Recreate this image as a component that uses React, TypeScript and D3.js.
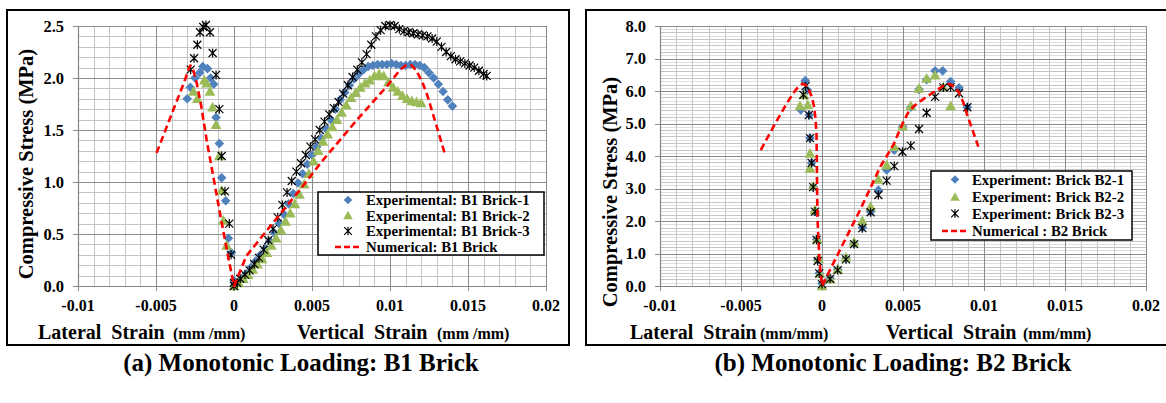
import React from 'react';
import * as d3 from 'd3';

type Pt = [number, number];

// ---------- Panel (a): B1 brick ----------
const B1_BRICK1: Pt[] = [
  [-0.0030, 1.80], [-0.0028, 1.91], [-0.0025, 2.00], [-0.0022, 2.05], [-0.0020, 2.11], [-0.0017, 2.09],
  [-0.0015, 2.00], [-0.0013, 1.94], [-0.00115, 1.62], [-0.00094, 1.37], [-0.00079, 1.04], [-0.00053, 0.82],
  [-0.00036, 0.46], [-0.00017, 0.32], [0, 0.05],
  [0, 0], [0.0002, 0.03], [0.0005, 0.07], [0.0008, 0.12], [0.0011, 0.18], [0.0014, 0.24], [0.0017, 0.30],
  [0.0020, 0.36], [0.0023, 0.43], [0.0026, 0.51], [0.0029, 0.60], [0.0032, 0.69], [0.0035, 0.79],
  [0.0038, 0.89], [0.0041, 0.99], [0.0044, 1.08], [0.0047, 1.17], [0.0050, 1.26], [0.0053, 1.34],
  [0.0056, 1.42], [0.0059, 1.51], [0.0062, 1.60], [0.0065, 1.70], [0.0068, 1.79], [0.0071, 1.86],
  [0.0074, 1.93], [0.0077, 1.99], [0.0080, 2.04], [0.0083, 2.08], [0.0086, 2.11], [0.0089, 2.12],
  [0.0092, 2.13], [0.0095, 2.13], [0.0098, 2.13], [0.0101, 2.14], [0.0104, 2.13], [0.0107, 2.12],
  [0.0110, 2.12], [0.0113, 2.13], [0.0116, 2.13], [0.0119, 2.12], [0.0122, 2.10], [0.0125, 2.05],
  [0.0128, 2.00], [0.0131, 1.94], [0.0134, 1.87], [0.0137, 1.79], [0.0140, 1.73],
];

const B1_BRICK2: Pt[] = [
  [-0.0026, 1.87], [-0.00235, 1.80], [-0.0019, 1.98], [-0.00175, 1.95], [-0.00154, 1.87], [-0.00137, 1.72],
  [-0.00115, 1.55], [-0.00094, 1.25], [-0.00079, 0.92], [-0.00068, 0.63], [-0.00047, 0.39], [0, 0],
  [0.0003, 0.03], [0.0006, 0.07], [0.0009, 0.11], [0.0012, 0.16], [0.0015, 0.21], [0.0018, 0.26],
  [0.0021, 0.32], [0.0024, 0.39], [0.0027, 0.46], [0.0030, 0.54], [0.0033, 0.62], [0.0036, 0.70],
  [0.0039, 0.79], [0.0042, 0.88], [0.0045, 0.98], [0.0048, 1.08], [0.0051, 1.20], [0.0054, 1.30],
  [0.0057, 1.39], [0.0060, 1.46], [0.0063, 1.53], [0.0066, 1.60], [0.0069, 1.67], [0.0072, 1.74],
  [0.0075, 1.81], [0.0078, 1.86], [0.0081, 1.91], [0.0084, 1.95], [0.0087, 1.98], [0.0090, 2.02],
  [0.0093, 2.04], [0.0096, 2.02], [0.0099, 1.96], [0.0102, 1.91], [0.0105, 1.87], [0.0108, 1.83],
  [0.0111, 1.80], [0.0114, 1.78], [0.0117, 1.77], [0.0120, 1.76],
];

const B1_BRICK3: Pt[] = [
  [-0.00278, 2.08], [-0.00256, 2.19], [-0.00235, 2.32], [-0.00218, 2.44], [-0.00197, 2.49], [-0.0018, 2.51],
  [-0.00154, 2.44], [-0.00137, 2.24], [-0.00115, 2.03], [-0.00094, 1.70], [-0.00079, 1.25], [-0.00058, 0.91],
  [-0.0003, 0.60], [-0.00019, 0.30], [0, 0.03],
  [0, 0], [0.0002, 0.03], [0.0004, 0.07], [0.0007, 0.11], [0.0010, 0.15], [0.0013, 0.21], [0.0016, 0.27],
  [0.0019, 0.35], [0.0022, 0.44], [0.0025, 0.55], [0.0028, 0.66], [0.0031, 0.78], [0.0034, 0.90],
  [0.0037, 1.01], [0.0040, 1.10], [0.0043, 1.18], [0.0046, 1.26], [0.0049, 1.34], [0.0052, 1.41],
  [0.0055, 1.50], [0.0058, 1.58], [0.0061, 1.65], [0.0064, 1.71], [0.0067, 1.77], [0.0070, 1.85],
  [0.0073, 1.93], [0.0076, 2.01], [0.0079, 2.08], [0.0082, 2.15], [0.0085, 2.23], [0.0088, 2.32],
  [0.0091, 2.40], [0.0094, 2.46], [0.0097, 2.50], [0.0100, 2.51], [0.0103, 2.50], [0.0106, 2.47],
  [0.0109, 2.45], [0.0112, 2.44], [0.0115, 2.43], [0.0118, 2.42], [0.0121, 2.41], [0.0124, 2.40],
  [0.0127, 2.38], [0.0130, 2.35], [0.0133, 2.30], [0.0136, 2.25], [0.0139, 2.21], [0.0142, 2.18],
  [0.0145, 2.16], [0.0148, 2.14], [0.0151, 2.12], [0.0154, 2.10], [0.0157, 2.07], [0.0160, 2.04],
  [0.0162, 2.02],
];

const B1_NUMERICAL: Pt[] = [
  [-0.00496, 1.28], [-0.0039, 1.69], [-0.0034, 1.88], [-0.0031, 2.00], [-0.0029, 2.09], [-0.0028, 2.12],
  [-0.0027, 2.11], [-0.0026, 2.07], [-0.0024, 1.96], [-0.0021, 1.73], [-0.00175, 1.40], [-0.0009, 0.70],
  [-0.0004, 0.30], [0, 0], [0.0008, 0.29], [0.0023, 0.57], [0.0042, 0.92], [0.0057, 1.21], [0.0079, 1.60],
  [0.0098, 1.92], [0.0106, 2.07], [0.0110, 2.12], [0.0112, 2.13], [0.0114, 2.12], [0.0117, 2.07],
  [0.0121, 1.95], [0.0124, 1.83], [0.0130, 1.53], [0.0135, 1.28],
];

// ---------- Panel (b): B2 brick ----------
const B2_BRICK1: Pt[] = [
  [-0.00131, 5.42], [-0.00103, 6.32], [-0.00091, 6.03], [-0.00078, 5.26], [-0.00074, 4.55], [-0.00064, 3.79],
  [-0.00054, 3.04], [-0.00043, 2.29], [-0.00033, 1.44], [-0.00027, 0.80], [-0.00017, 0.39], [0, 0.08],
  [0.0005, 0.24], [0.00097, 0.51], [0.00148, 0.85], [0.00198, 1.31], [0.00249, 1.80], [0.0030, 2.29],
  [0.00348, 2.95], [0.00399, 3.57], [0.00446, 4.18], [0.00498, 4.90], [0.00548, 5.50], [0.00599, 6.05],
  [0.00646, 6.35], [0.00698, 6.62], [0.00745, 6.62], [0.00794, 6.29], [0.00846, 6.10], [0.00897, 5.50],
];

const B2_BRICK2: Pt[] = [
  [-0.00136, 5.54], [-0.00111, 5.88], [-0.00088, 5.57], [-0.00074, 4.08], [-0.00074, 3.62], [-0.00054, 3.08],
  [-0.00043, 2.34], [-0.00029, 1.44], [-0.00021, 0.85], [-0.00012, 0.39], [0, 0],
  [0.0005, 0.22], [0.00097, 0.52], [0.00148, 0.88], [0.00198, 1.35], [0.00249, 2.00], [0.0030, 2.44],
  [0.00348, 3.28], [0.00399, 3.72], [0.00446, 4.29], [0.00498, 4.92], [0.00548, 5.54], [0.00599, 6.08],
  [0.00646, 6.39], [0.00698, 6.49], [0.00749, 6.13], [0.00794, 5.54],
];

const B2_BRICK3: Pt[] = [
  [-0.00115, 5.88], [-0.00101, 6.15], [-0.00082, 5.26], [-0.00074, 4.55], [-0.00064, 3.79], [-0.00054, 3.04],
  [-0.00043, 2.29], [-0.00033, 1.42], [-0.00027, 0.77], [-0.00017, 0.39], [0, 0.06],
  [0.0005, 0.22], [0.00097, 0.49], [0.00148, 0.82], [0.00198, 1.29], [0.00249, 1.78], [0.0030, 2.27],
  [0.00348, 2.80], [0.00399, 3.24], [0.00446, 3.69], [0.00496, 4.13], [0.00548, 4.32], [0.00599, 4.83],
  [0.00646, 5.33], [0.00698, 5.82], [0.00749, 6.11], [0.00794, 6.11], [0.00846, 5.93], [0.00897, 5.50],
];

const B2_NUMERICAL: Pt[] = [
  [-0.00378, 4.18], [-0.0030, 4.90], [-0.0022, 5.60], [-0.0017, 5.98], [-0.00146, 6.13], [-0.0012, 6.22],
  [-0.0010, 6.18], [-0.0008, 6.02], [-0.00064, 5.83], [-0.0005, 5.55], [-0.0004, 5.15], [-0.00034, 4.65],
  [-0.00032, 3.90], [-0.0003, 2.80], [-0.00027, 2.00], [-0.00016, 0.80], [0, 0], [0.0012, 1.20],
  [0.00235, 2.34], [0.0036, 3.67], [0.0044, 4.34], [0.0050, 5.02], [0.0053, 5.32], [0.00564, 5.52],
  [0.0060, 5.66], [0.00646, 5.82], [0.0070, 6.00], [0.00749, 6.16], [0.00786, 6.22], [0.0082, 6.12],
  [0.00842, 5.98], [0.0087, 5.68], [0.00893, 5.31], [0.00965, 4.29],
];

const X_TICKS = [-0.01, -0.005, 0, 0.005, 0.01, 0.015, 0.02];
const X_TICK_LABELS = ['-0.01', '-0.005', '0', '0.005', '0.01', '0.015', '0.02'];
const Y_TICKS_A = [0, 0.5, 1.0, 1.5, 2.0, 2.5];
const Y_TICKS_B = [0, 1, 2, 3, 4, 5, 6, 7, 8];

const LEGEND_A = ['Experimental: B1 Brick-1', 'Experimental: B1 Brick-2', 'Experimental: B1 Brick-3', 'Numerical: B1 Brick'];
const LEGEND_B = ['Experiment: Brick B2-1', 'Experiment: Brick B2-2', 'Experiment: Brick B2-3', 'Numerical : B2 Brick'];

const BLUE = '#4F81BD';
const GREEN = '#9BBB59';
const RED = '#FF0000';
const FONT = '"Liberation Serif", "Times New Roman", serif';

const Diamond = ({ x, y, r = 4.8 }: { x: number; y: number; r?: number }) => (
  <path d={`M${x},${y - r}L${x + r},${y}L${x},${y + r}L${x - r},${y}Z`} fill={BLUE} />
);
const Triangle = ({ x, y, r = 5.4 }: { x: number; y: number; r?: number }) => (
  <path d={`M${x},${y - r}L${x + r},${y + r * 0.8}L${x - r},${y + r * 0.8}Z`} fill={GREEN} />
);
const Star = ({ x, y, r = 4 }: { x: number; y: number; r?: number }) => (
  <path
    d={`M${x - r},${y - r}L${x + r},${y + r}M${x - r},${y + r}L${x + r},${y - r}M${x},${y - r - 0.5}L${x},${y + r + 0.5}`}
    stroke="#000"
    strokeWidth={1.2}
    fill="none"
  />
);

interface PanelProps {
  frame: [number, number, number, number];
  plot: [number, number, number, number];
  yMax: number;
  yTicks: number[];
  yMinorStep: number;
  alternateMinor: boolean;
  s1: Pt[];
  s2: Pt[];
  s3: Pt[];
  num: Pt[];
  legend: string[];
  legendBox: [number, number, number, number];
  legendRows: number[];
  legendMarkerX: number;
  legendTextX: number;
  yTitle: [number, number];
  latTitleX: number;
  latUnitX: number;
  verTitleX: number;
  verUnitX: number;
  unitText: string;
  caption: string;
  captionX: number;
}

const Panel = (p: PanelProps) => {
  const [px0, py0, px1, py1] = p.plot;
  const x = d3.scaleLinear().domain([-0.01, 0.02]).range([px0, px1]);
  const y = d3.scaleLinear().domain([0, p.yMax]).range([py1, py0]);
  const minorX = d3.range(-10, 21).map((i) => i / 1000);
  const nMinorY = Math.round(p.yMax / p.yMinorStep);
  const minorY = d3.range(0, nMinorY + 1).map((i) => i * p.yMinorStep);
  const lineNum = d3
    .line<Pt>()
    .x((d) => x(d[0]))
    .y((d) => y(d[1]))
    .curve(d3.curveLinear);
  const [fx, fy, fw, fh] = p.frame;
  const [lx, ly, lw, lh] = p.legendBox;
  const cr = (v: number) => Math.round(v) + 0.5;
  return (
    <g>
      <rect x={fx} y={fy} width={fw} height={fh} fill="#fff" stroke="#000" strokeWidth={2} />
      {/* minor grid */}
      {minorY.map((v, i) => (
        <line
          key={'my' + i}
          x1={px0}
          x2={px1}
          y1={cr(y(v))}
          y2={cr(y(v))}
          stroke={p.alternateMinor && i % 2 === 1 ? '#dedede' : '#c4c4c4'}
          strokeWidth={1}
        />
      ))}
      {minorX.map((v, i) => (
        <line key={'mx' + i} x1={cr(x(v))} x2={cr(x(v))} y1={py0} y2={py1} stroke="#c4c4c4" strokeWidth={1} />
      ))}
      {/* major grid */}
      {p.yTicks.map((v, i) => (
        <line key={'My' + i} x1={px0 - 5} x2={px1} y1={cr(y(v))} y2={cr(y(v))} stroke="#8c8c8c" strokeWidth={1} />
      ))}
      {X_TICKS.map((v, i) => (
        <line key={'Mx' + i} x1={cr(x(v))} x2={cr(x(v))} y1={py0} y2={py1 + 5} stroke="#8c8c8c" strokeWidth={1} />
      ))}
      {/* axes */}
      <line x1={cr(px0)} x2={cr(px0)} y1={py0} y2={py1} stroke="#868686" strokeWidth={1.2} />
      <line x1={px0 - 5} x2={px1} y1={cr(py1)} y2={cr(py1)} stroke="#868686" strokeWidth={1.2} />
      {/* tick labels */}
      {p.yTicks.map((v, i) => (
        <text
          key={'yl' + i}
          x={px0 - 14}
          y={y(v) + 5.5}
          textAnchor="end"
          fontFamily={FONT}
          fontWeight="bold"
          fontSize={16.5}
        >
          {d3.format('.1f')(v)}
        </text>
      ))}
      {X_TICKS.map((v, i) => (
        <text
          key={'xl' + i}
          x={x(v)}
          y={py1 + 25}
          textAnchor="middle"
          fontFamily={FONT}
          fontWeight="bold"
          fontSize={16}
        >
          {X_TICK_LABELS[i]}
        </text>
      ))}
      {/* series */}
      {p.s1.map((d, i) => (
        <Diamond key={'a' + i} x={x(d[0])} y={y(d[1])} />
      ))}
      {p.s2.map((d, i) => (
        <Triangle key={'b' + i} x={x(d[0])} y={y(d[1])} />
      ))}
      {p.s3.map((d, i) => (
        <Star key={'c' + i} x={x(d[0])} y={y(d[1])} />
      ))}
      <path
        d={lineNum(p.num) || ''}
        fill="none"
        stroke={RED}
        strokeWidth={2.6}
        strokeDasharray="7,4"
        strokeLinejoin="round"
      />
      {/* legend */}
      <rect x={lx} y={ly} width={lw} height={lh} fill="#fff" stroke="#000" strokeWidth={1.5} />
      <Diamond x={p.legendMarkerX} y={p.legendRows[0]} r={4.3} />
      <Triangle x={p.legendMarkerX} y={p.legendRows[1]} r={4.8} />
      <Star x={p.legendMarkerX} y={p.legendRows[2]} r={3.8} />
      <line
        x1={p.legendMarkerX - 13}
        x2={p.legendMarkerX + 13}
        y1={p.legendRows[3]}
        y2={p.legendRows[3]}
        stroke={RED}
        strokeWidth={2.6}
        strokeDasharray="6,3"
      />
      {p.legend.map((t, i) => (
        <text
          key={'lg' + i}
          x={p.legendTextX}
          y={p.legendRows[i] + 5}
          fontFamily={FONT}
          fontWeight="bold"
          fontSize={14.8}
        >
          {t}
        </text>
      ))}
      {/* axis titles */}
      <text
        transform={`translate(${p.yTitle[0]},${p.yTitle[1]}) rotate(-90)`}
        textAnchor="middle"
        fontFamily={FONT}
        fontWeight="bold"
        fontSize={20.5}
      >
        Compressive Stress (MPa)
      </text>
      <text x={p.latTitleX} y={339} fontFamily={FONT} fontWeight="bold" fontSize={20}>
        {'Lateral\u00A0 Strain'}
      </text>
      <text x={p.latUnitX} y={339} fontFamily={FONT} fontWeight="bold" fontSize={16}>
        {p.unitText}
      </text>
      <text x={p.verTitleX} y={339} fontFamily={FONT} fontWeight="bold" fontSize={20}>
        {'Vertical\u00A0 Strain'}
      </text>
      <text x={p.verUnitX} y={339} fontFamily={FONT} fontWeight="bold" fontSize={16}>
        {p.unitText}
      </text>
      <text x={p.captionX} y={371} textAnchor="middle" fontFamily={FONT} fontWeight="bold" fontSize={25}>
        {p.caption}
      </text>
    </g>
  );
};

export default function App() {
  return (
    <svg
      width={1166}
      height={403}
      style={{ position: 'absolute', left: 0, top: 0, background: '#fff' }}
      xmlns="http://www.w3.org/2000/svg"
    >
      <rect x={0} y={0} width={1166} height={403} fill="#fff" />
      <Panel
        frame={[7, 10, 562, 335]}
        plot={[78, 26, 546, 286]}
        yMax={2.5}
        yTicks={Y_TICKS_A}
        yMinorStep={0.1}
        alternateMinor={false}
        s1={B1_BRICK1}
        s2={B1_BRICK2}
        s3={B1_BRICK3}
        num={B1_NUMERICAL}
        legend={LEGEND_A}
        legendBox={[318, 192, 226, 63]}
        legendRows={[200, 215.5, 231, 247]}
        legendMarkerX={348}
        legendTextX={366}
        yTitle={[33, 164]}
        latTitleX={38}
        latUnitX={173}
        verTitleX={297}
        verUnitX={437}
        unitText="(mm /mm)"
        caption="(a) Monotonic Loading: B1 Brick"
        captionX={301}
      />
      <Panel
        frame={[586, 10, 581, 335]}
        plot={[660, 26, 1146, 286]}
        yMax={8}
        yTicks={Y_TICKS_B}
        yMinorStep={0.1}
        alternateMinor={true}
        s1={B2_BRICK1}
        s2={B2_BRICK2}
        s3={B2_BRICK3}
        num={B2_NUMERICAL}
        legend={LEGEND_B}
        legendBox={[931, 171, 201, 69]}
        legendRows={[179.5, 197, 213.5, 231]}
        legendMarkerX={955}
        legendTextX={972}
        yTitle={[617, 192]}
        latTitleX={630}
        latUnitX={760}
        verTitleX={886}
        verUnitX={1023}
        unitText="(mm/mm)"
        caption="(b) Monotonic Loading: B2 Brick"
        captionX={893}
      />
    </svg>
  );
}
